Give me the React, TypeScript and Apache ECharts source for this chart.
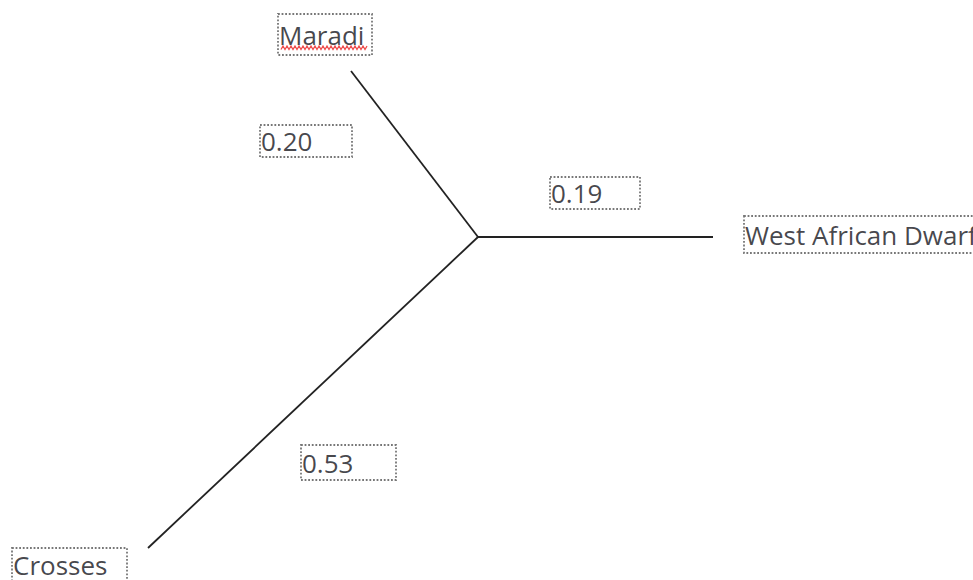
import React, { useEffect, useRef } from "react";
import * as echarts from "echarts";

// ---- data ----
const taxa = ["Maradi", "West African Dwarf", "Crosses"];
const branchLengths = ["0.20", "0.19", "0.53"];

// ---- layout (pixel-space tree layout) ----
const W = 973;
const H = 580;
const centerNode = [478, 237];
const tipNodes = [
  [351, 71],
  [713, 237],
  [148, 548],
];
// label boxes: [left, centerY, contentWidth, height, padBottom]
const taxonBoxes = [
  [278, 34.5, 93, 41, 7],
  [744, 234.5, 240, 37, 0],
  [12, 564.5, 114, 33, 0],
];
const lengthBoxes = [
  [260, 141, 91, 32, 0],
  [550, 193, 89, 32, 0],
  [301, 462.5, 94, 35, 0],
];

const boxLabel = (text: string, b: number[]) => ({
  value: [b[0], b[1]],
  name: text,
  label: {
    show: true,
    position: "right",
    distance: 0,
    formatter: text,
    fontFamily: "Open Sans",
    fontSize: 26,
    color: "#15151c",
    borderColor: "#555555",
    borderWidth: 1.8,
    borderType: "dotted",
    padding: [0, 0, b[4], 1],
    width: b[2],
    height: b[3] - b[4],
    lineHeight: b[3] - b[4],
    align: "left",
    verticalAlign: "middle",
  },
});

export default function App() {
  const ref = useRef<HTMLDivElement>(null);
  useEffect(() => {
    if (!ref.current) return;
    const chart = echarts.init(ref.current, null, { renderer: "svg" });

    const branchSeries = tipNodes.map((tip, i) => ({
      type: "line",
      name: taxa[i],
      data: [centerNode, tip],
      symbol: "none",
      lineStyle: { color: "#222222", width: 1.8 },
      silent: true,
    }));

    const labelData: any[] = [];
    taxa.forEach((t, i) => labelData.push(boxLabel(t, taxonBoxes[i])));
    branchLengths.forEach((t, i) => labelData.push(boxLabel(t, lengthBoxes[i])));

    // spell-check squiggle under "Maradi"
    const sq: number[][] = [];
    for (let x = 281, k = 0; x <= 367; x += 2, k++) {
      sq.push([x, k % 2 === 0 ? 49.5 : 46]);
    }

    chart.setOption({
      animation: false,
      backgroundColor: "#ffffff",
      grid: { left: 0, right: 0, top: 0, bottom: 0 },
      xAxis: { type: "value", min: 0, max: W, show: false },
      yAxis: { type: "value", min: 0, max: H, inverse: true, show: false },
      series: [
        ...branchSeries,
        {
          type: "scatter",
          symbolSize: 0,
          data: labelData,
          silent: true,
        },
      ],
      graphic: [
        {
          type: "polyline",
          shape: { points: sq },
          style: { stroke: "#ee4b4b", lineWidth: 1.3, fill: null },
          z: 10,
        },
      ],
    });
    return () => chart.dispose();
  }, []);
  return (
    <div
      ref={ref}
      style={{ position: "fixed", left: 0, top: 0, width: W, height: H, background: "#fff" }}
    />
  );
}
